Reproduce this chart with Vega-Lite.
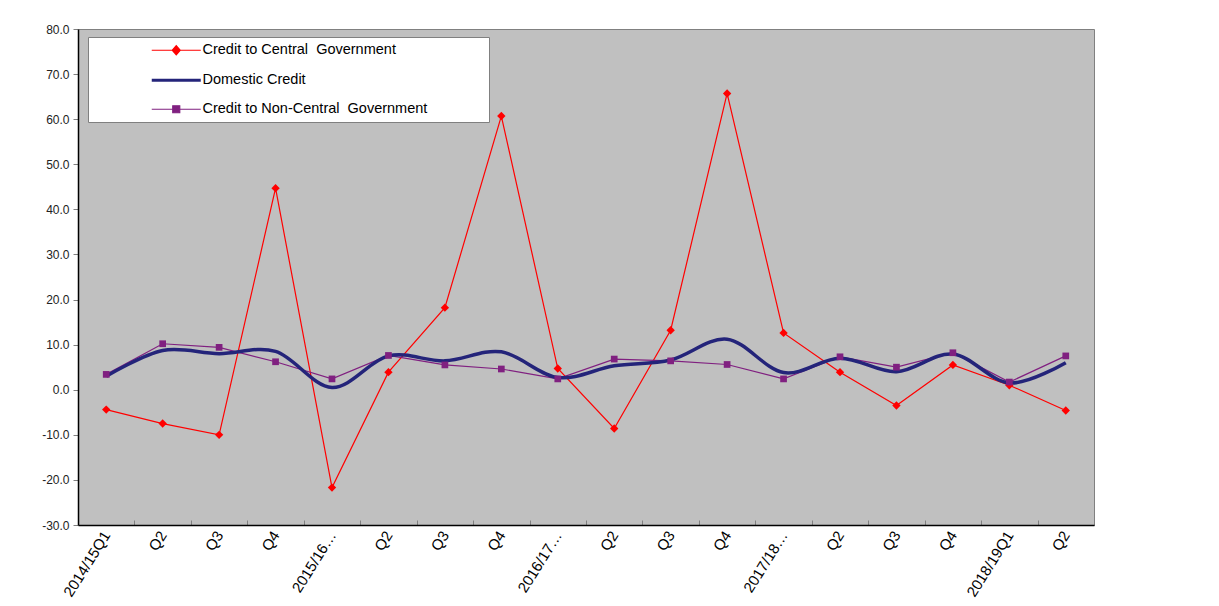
{
  "$schema": "https://vega.github.io/schema/vega-lite/v6.json",
  "width": 1016,
  "height": 496,
  "autosize": "none",
  "padding": {"left": 78, "top": 29, "right": 125, "bottom": 81},
  "background": "white",
  "config": {
    "view": {"fill": "#C0C0C0", "stroke": "#808080", "strokeWidth": 1},
    "font": "Liberation Sans"
  },
  "data": {
    "values": [
      {"period": "2014/15Q1", "Credit to Central  Government": -4.4, "Domestic Credit": 3.0, "Credit to Non-Central  Government": 3.4},
      {"period": "2014/15Q2", "Credit to Central  Government": -7.5, "Domestic Credit": 8.7, "Credit to Non-Central  Government": 10.2},
      {"period": "2014/15Q3", "Credit to Central  Government": -10.0, "Domestic Credit": 8.0, "Credit to Non-Central  Government": 9.4},
      {"period": "2014/15Q4", "Credit to Central  Government": 44.7, "Domestic Credit": 8.5, "Credit to Non-Central  Government": 6.2},
      {"period": "2015/16Q1", "Credit to Central  Government": -21.7, "Domestic Credit": 0.5, "Credit to Non-Central  Government": 2.4},
      {"period": "2015/16Q2", "Credit to Central  Government": 3.9, "Domestic Credit": 7.5, "Credit to Non-Central  Government": 7.6},
      {"period": "2015/16Q3", "Credit to Central  Government": 18.2, "Domestic Credit": 6.4, "Credit to Non-Central  Government": 5.5},
      {"period": "2015/16Q4", "Credit to Central  Government": 60.7, "Domestic Credit": 8.4, "Credit to Non-Central  Government": 4.6},
      {"period": "2016/17Q1", "Credit to Central  Government": 4.7, "Domestic Credit": 2.7, "Credit to Non-Central  Government": 2.4},
      {"period": "2016/17Q2", "Credit to Central  Government": -8.6, "Domestic Credit": 5.3, "Credit to Non-Central  Government": 6.8},
      {"period": "2016/17Q3", "Credit to Central  Government": 13.2, "Domestic Credit": 6.6, "Credit to Non-Central  Government": 6.4},
      {"period": "2016/17Q4", "Credit to Central  Government": 65.7, "Domestic Credit": 11.2, "Credit to Non-Central  Government": 5.6},
      {"period": "2017/18Q1", "Credit to Central  Government": 12.6, "Domestic Credit": 3.8, "Credit to Non-Central  Government": 2.4},
      {"period": "2017/18Q2", "Credit to Central  Government": 3.9, "Domestic Credit": 7.0, "Credit to Non-Central  Government": 7.3},
      {"period": "2017/18Q3", "Credit to Central  Government": -3.5, "Domestic Credit": 4.0, "Credit to Non-Central  Government": 5.0},
      {"period": "2017/18Q4", "Credit to Central  Government": 5.5, "Domestic Credit": 7.9, "Credit to Non-Central  Government": 8.2},
      {"period": "2018/19Q1", "Credit to Central  Government": 1.0, "Domestic Credit": 1.5, "Credit to Non-Central  Government": 1.7},
      {"period": "2018/19Q2", "Credit to Central  Government": -4.6, "Domestic Credit": 6.0, "Credit to Non-Central  Government": 7.5}
    ]
  },
  "transform": [
    {"fold": ["Credit to Central  Government", "Domestic Credit", "Credit to Non-Central  Government"], "as": ["series", "value"]}
  ],
  "encoding": {
    "x": {
      "field": "period",
      "type": "ordinal",
      "sort": null,
      "scale": {"type": "band", "paddingInner": 0, "paddingOuter": 0},
      "axis": {
        "title": null,
        "labelAngle": -58,
        "labelFontSize": 15,
        "labelColor": "black",
        "domainColor": "black",
        "domainWidth": 1.5,
        "tickColor": "#808080",
        "tickSize": -5,
        "tickBand": "extent",
        "labelPadding": 12,
        "labelExpr": "datum.value ? (substring(datum.value,7) != 'Q1' ? substring(datum.value,7) : ((datum.value == '2014/15Q1' || datum.value == '2018/19Q1') ? datum.value : substring(datum.value,0,7) + '…')) : ''"
      }
    },
    "y": {
      "field": "value",
      "type": "quantitative",
      "scale": {"domain": [-30, 80], "nice": false, "zero": false},
      "axis": {
        "title": null,
        "values": [-30, -20, -10, 0, 10, 20, 30, 40, 50, 60, 70, 80],
        "format": ".1f",
        "labelExpr": "replace(datum.label, '−', '-')",
        "grid": false,
        "ticks": true,
        "tickSize": 5,
        "tickColor": "#808080",
        "labelFontSize": 12,
        "labelColor": "#222222",
        "domainColor": "black",
        "domainWidth": 1.5,
        "labelPadding": 4
      }
    },
    "color": {
      "field": "series",
      "type": "nominal",
      "scale": {
        "domain": ["Credit to Central  Government", "Domestic Credit", "Credit to Non-Central  Government"],
        "range": ["#FF0000", "#24247A", "#802080"]
      },
      "legend": {
        "title": null,
        "orient": "none",
        "legendX": 10,
        "legendY": 8,
        "fillColor": "white",
        "strokeColor": "#808080",
        "padding": 6,
        "rowPadding": 14,
        "labelFontSize": 14.5,
        "labelColor": "black",
        "labelLimit": 400,
        "labelExpr": "replace(datum.label, '  ', '\u00a0 ')",
        "symbolSize": 100,
        "symbolOffset": 75,
        "labelOffset": 19,
        "symbolStrokeWidth": 1.2,
        "encode": {
          "symbols": {
            "update": {
              "shape": {"signal": "datum.value == 'Domestic Credit' ? 'M-4.9,0L4.9,0M60.1,0' : (datum.value == 'Credit to Central  Government' ? 'M-4.9,0L4.9,0M0,-0.9L0.8,0L0,0.9L-0.8,0ZM60.1,0' : 'M-4.9,0L4.9,0M-0.7,-0.7L0.7,-0.7L0.7,0.7L-0.7,0.7ZM60.1,0')"},
              "fill": {"signal": "datum.value == 'Domestic Credit' ? 'transparent' : (datum.value == 'Credit to Central  Government' ? '#FF0000' : '#802080')"},
              "stroke": {"signal": "datum.value == 'Domestic Credit' ? '#24247A' : (datum.value == 'Credit to Central  Government' ? '#FF0000' : '#802080')"},
              "strokeWidth": {"signal": "datum.value == 'Domestic Credit' ? 3 : 1.2"},
              "opacity": {"value": 1}
            }
          }
        }
      }
    }
  },
  "layer": [
    {
      "transform": [{"filter": "datum.series != 'Domestic Credit'"}],
      "mark": {"type": "line", "strokeWidth": 1.2}
    },
    {
      "transform": [{"filter": "datum.series == 'Domestic Credit'"}],
      "mark": {"type": "line", "strokeWidth": 3.5, "interpolate": "cardinal"}
    },
    {
      "transform": [{"filter": "datum.series == 'Credit to Central  Government'"}],
      "mark": {"type": "point", "filled": true, "opacity": 1, "shape": "diamond", "size": 70}
    },
    {
      "transform": [{"filter": "datum.series == 'Credit to Non-Central  Government'"}],
      "mark": {"type": "point", "filled": true, "opacity": 1, "shape": "square", "size": 45}
    }
  ]
}
